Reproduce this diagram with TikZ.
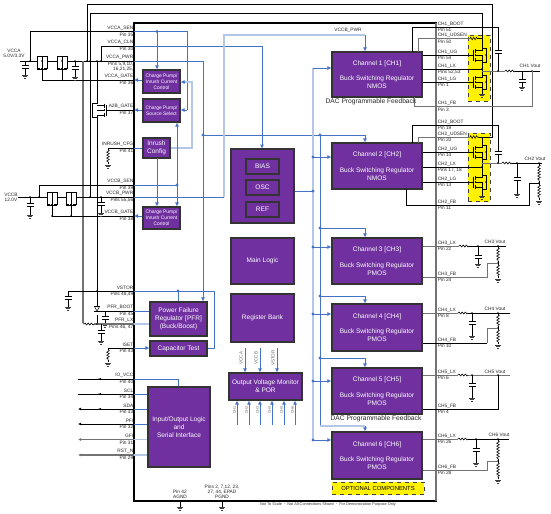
\documentclass[tikz,border=0pt]{standalone}
\usepackage{fontspec}
\setmainfont{Liberation Sans}
\usetikzlibrary{arrows.meta,decorations.pathmorphing}
\pgfdeclarelayer{toplab}
\pgfsetlayers{main,toplab}
\definecolor{pur}{HTML}{7030A0}
\definecolor{blu}{HTML}{4472C4}
\definecolor{lbl}{HTML}{B4C7E7}
\tikzset{
 wk/.style={draw=black,line width=0.5pt},
 thin fet/.style={draw=black,line width=0.4pt},
 wg/.style={draw=black!55,line width=0.9pt},
 wb/.style={draw=blu,line width=0.7pt},
 wl/.style={draw=lbl,line width=1.5pt},
 arr/.style={-{Latex[length=3pt,width=3pt,color=blu]}},
 pinlab/.style={inner sep=0pt,font=\fontsize{3.6}{4}\selectfont,text=black!85},
 blk/.style={draw=black!80,line width=0.8pt,fill=pur,text=white,align=center,inner sep=0pt},
 big/.style={font=\fontsize{4.9}{6}\selectfont},
 small/.style={font=\fontsize{3.7}{4.6}\selectfont},
 rotlab/.style={inner sep=0pt,rotate=90,text=black!60},
 res/.style={line width=0.4pt,decorate,decoration={zigzag,amplitude=1pt,segment length=2.2pt}},
 ind/.style={line width=0.45pt,decorate,decoration={snake,amplitude=0.7pt,segment length=2.4pt}},
 yel/.style={fill=yellow,draw=black!75,dashed,line width=0.7pt}
}
\newcommand\blk[7]{\node[blk,#6,minimum width={(#4-#2)*0.75},minimum height={(#5-#3)*0.75}] (#1) at ({(#2+#4)/2},{(#3+#5)/2}) {#7};}
\newcommand\pinL[4]{\coordinate (#1) at (134,#2);
 \begin{pgfonlayer}{toplab}
 \node[pinlab,anchor=east] (#1n) at (133.5,{#2-3.4}) {#3};
 \node[pinlab,anchor=east] (#1p) at (133.5,{#2+2.9}) {#4};
 \end{pgfonlayer}}
\newcommand\pinR[4]{\coordinate (#1) at (436,#2);
 \begin{pgfonlayer}{toplab}
 \node[pinlab,anchor=west] (#1n) at (437.5,{#2-3}) {#3};
 \node[pinlab,anchor=west] (#1p) at (437.5,{#2+2.9}) {#4};
 \end{pgfonlayer}}
\newcommand\gndx[2]{\draw[line width=0.45pt,black!75] ({#1-3},#2)--({#1+3},#2) ({#1-2},{#2+1.5})--({#1+2},{#2+1.5}) ({#1-0.8},{#2+3})--({#1+0.8},{#2+3});}
% capacitor with ground: x, y top, plate y, ground y
\newcommand\capg[4]{\draw[wk] (#1,#2)--(#1,#3) (#1,{#3+3})--(#1,#4);
 \draw[line width=0.7pt] ({#1-3.5},#3)--({#1+3.5},#3) ({#1-3.5},{#3+3})--({#1+3.5},{#3+3}); \gndx{#1}{#4}}
\newcommand\resv[3]{\draw[wk] (#1,#2)--(#1,{#2+2}); \draw[wk,res] (#1,{#2+2})--(#1,{#3-2}); \draw[wk] (#1,{#3-2})--(#1,#3);}
\newcommand\indh[3]{\draw[wk,ind] (#1,#3)--(#2,#3);}
\newcommand\dotk[2]{\fill[black] (#1,#2) circle (0.6pt);}
\newcommand\dotb[2]{\fill[blu] (#1,#2) circle (1.2pt);}
% FET in series with horizontal line: x, line y, gate y
\newcommand\fetS[3]{\draw[thin fet] ({#1-5},#2)--({#1-5},{#2+7})--({#1-1.8},{#2+7}) ({#1-0.9},{#2+7})--({#1+0.9},{#2+7}) ({#1+1.8},{#2+7})--({#1+5},{#2+7})--({#1+5},#2)
  ({#1-5},#2)--({#1-5},{#2-5})--({#1+5},{#2-5})--({#1+5},#2)
  ({#1-5},{#2+8.6})--({#1+5},{#2+8.6}) (#1,#3)--(#1,{#2+8.6}) (#1,{#2+7})--(#1,{#2-5});}
% FET in a vertical leg, gate from the left: x of gate plate, centre y, top y, bottom y
\newcommand\fetG[4]{\draw[thin fet] (#1,{#2-5.5})--(#1,{#2+5.5}) ({#1+1.8},{#2-6.5})--({#1+1.8},{#2-2.5}) ({#1+1.8},{#2-1})--({#1+1.8},{#2+1}) ({#1+1.8},{#2+2.5})--({#1+1.8},{#2+6.5})
  ({#1+1.8},{#2-5})--({#1+9},{#2-5})--({#1+9},#3) ({#1+1.8},{#2+5})--({#1+9},{#2+5})--({#1+9},#4)
  ({#1+1.8},#2)--({#1+9},#2)--({#1+9},{#2+5})
  ({#1+9},{#2-7})--({#1+13},{#2-7})--({#1+13},{#2+7})--({#1+9},{#2+7});
  \fill ({#1+13},#2) circle (0.6pt);}
\begin{document}
\begin{tikzpicture}[x=0.75pt,y=-0.75pt]
\path[use as bounding box,fill=white] (0,0) rectangle (551,514);
% main outline
\draw[line width=0.95pt,fill=white] (134,23) rectangle (436,501);
\draw[black!55,line width=1.2pt] (436,23)--(436,501);
% yellow fields
\node[yel,minimum width=16.5pt,minimum height=49.5pt,inner sep=0pt] (yel1) at (479,68) {};
\node[yel,minimum width=16.5pt,minimum height=51.5pt,inner sep=0pt] (yel2) at (479,167.5) {};
% blocks
\blk{cpa}{143}{70}{180}{93}{small}{Charge Pump/\\Inrush Current\\Control}
\blk{cps}{143}{99}{180}{122}{small}{Charge Pump/\\Source Select}
\blk{inr}{143}{138}{170}{158}{big}{Inrush\\Config}
\blk{cpb}{143}{207}{180}{229}{small}{Charge Pump/\\Inrush Current\\Control}
\blk{sys}{231}{149}{294}{223}{big}{}
\blk{bias}{246}{159}{279}{174}{big}{BIAS}
\blk{osc}{246}{180}{279}{195}{big}{OSC}
\blk{ref}{246}{202}{279}{217}{big}{REF}
\blk{logic}{231}{238}{294}{284}{big}{Main Logic}
\blk{regb}{231}{294}{294}{342}{big}{Register Bank}
\blk{mon}{229}{373}{302}{400}{big}{Output Voltage Monitor\\\& POR}
\blk{pfr}{150}{302}{207}{336}{big}{Power Failure\\Regulator [PFR]\\(Buck/Boost)}
\blk{cap}{150}{341}{207}{356}{big}{Capacitor Test}
\blk{iob}{148}{387}{210}{467}{big}{Input/Output Logic\\and\\Serial Interface}
\blk{cha}{332}{52}{422}{97}{big}{Channel 1 [CH1]\\[5.5pt]Buck Switching Regulator\\NMOS}
\blk{chb}{332}{143}{422}{189}{big}{Channel 2 [CH2]\\[5.5pt]Buck Switching Regulator\\NMOS}
\blk{chc}{332}{238}{422}{284}{big}{Channel 3 [CH3]\\[5.5pt]Buck Switching Regulator\\PMOS}
\blk{chd}{332}{304}{422}{351}{big}{Channel 4 [CH4]\\[5.5pt]Buck Switching Regulator\\PMOS}
\blk{che}{332}{368}{422}{414}{big}{Channel 5 [CH5]\\[5.5pt]Buck Switching Regulator\\PMOS}
\blk{chf}{332}{432}{422}{479}{big}{Channel 6 [CH6]\\[5.5pt]Buck Switching Regulator\\PMOS}
\node[yel,minimum width=69pt,minimum height=9.5pt,inner sep=0pt,font=\fontsize{4.4}{5}\selectfont,text=black] (opt) at (378,488.5) {OPTIONAL COMPONENTS};
% pin labels, left
\pinL{vccasen}{31.5}{VCCA\_SEN}{Pin 35}
\pinL{vccacln}{46}{VCCA\_CLN}{Pin 30}
\pinL{vccapwr}{61}{VCCA\_PWR}{Pins 5,9,10,}
\begin{pgfonlayer}{toplab}\node[pinlab,anchor=east] (vccapwrq) at (133.5,69.5) {16,21,25,};\end{pgfonlayer}
\pinL{vccagate}{80}{VCCA\_GATE}{Pin 36}
\pinL{atobgate}{110}{A2B\_GATE}{Pin 37}
\pinL{inrcfg}{148}{INRUSH\_CFG}{Pin 41}
\pinL{vccbsen}{185}{VCCB\_SEN}{Pin 39}
\pinL{vccbpwr}{197}{VCCB\_PWR}{Pins 55,56}
\pinL{vccbgate}{216}{VCCB\_GATE}{Pin 38}
\pinL{vstor}{291}{VSTOR}{Pins 48,49}
\pinL{pfrboot}{311}{PFR\_BOOT}{Pin 45}
\pinL{pfrlx}{324}{PFR\_LX}{Pins 46, 47}
\pinL{iset}{348}{ISET}{Pin 43}
\pinL{iovcc}{379}{IO\_VCC}{Pin 40}
\pinL{scl}{394}{SCL}{Pin 34}
\pinL{sda}{409}{SDA}{Pin 33}
\pinL{pfi}{424}{PFI}{Pin 32}
\pinL{gfi}{439.5}{GFI}{Pin 31}
\pinL{rstn}{455}{RST\_N}{Pin 29}
% pin labels, right
\pinR{aboot}{27}{CH1\_BOOT}{Pin 51}
\pinR{auds}{38.5}{CH1\_UDSEN}{Pin 50}
\pinR{aug}{55}{CH1\_UG}{Pin 54}
\pinR{alx}{69}{CH1\_LX}{Pins 52,53}
\pinR{alg}{82}{CH1\_LG}{Pin 1}
\pinR{afb}{106.5}{CH1\_FB}{Pin 3}
\pinR{bboot}{125}{CH2\_BOOT}{Pin 19}
\pinR{buds}{137}{CH2\_UDSEN}{Pin 20}
\pinR{bug}{152}{CH2\_UG}{Pin 14}
\pinR{blx}{167}{CH2\_LX}{Pins 17, 18}
\pinR{blg}{182}{CH2\_LG}{Pin 13}
\pinR{bfb}{205}{CH2\_FB}{Pin 11}
\pinR{clx}{246}{CH3\_LX}{Pin 22}
\pinR{cfb}{277}{CH3\_FB}{Pin 24}
\pinR{dlx}{313}{CH4\_LX}{Pin 8}
\pinR{dfb}{343}{CH4\_FB}{Pin 10}
\pinR{elx}{375}{CH5\_LX}{Pin 6}
\pinR{efb}{409}{CH5\_FB}{Pin 4}
\pinR{flx}{439}{CH6\_LX}{Pin 26}
\pinR{ffb}{470}{CH6\_FB}{Pin 28}
% left rails
\coordinate (srca) at (20,61);
\coordinate (srcb) at (18,197);
\draw[wk] (srca)--(37,61) (47,61)--(57,61) (67,61)--(vccapwr);
\draw[wk] (30,61)--(30,31.5)--(vccasen);
\draw[wk] (101,61)--(101,46)--(vccacln);
\draw[wk] (87,61)--(87,4)--(492,4)--(492,137)--(482,137);
\draw[wk] (90,197)--(90,13)--(482,13)--(482,45);
\draw[wg] (83,61)--(83,323);
\draw[wk] (97,61)--(97,104) (97,116)--(97,307) (97,315)--(97,324);
\fetS{42}{61}{80}
\fetS{62}{61}{80}
\draw[wk] (42,80)--(vccagate);
\capg{25}{61}{65}{75}
\capg{75}{61}{66}{77}
\foreach \x in {30,42,62,75,87,90,97,101}{\dotk{\x}{61}}
% A2B fet, gate from the right
\draw[thin fet] (106,104.5)--(106,115.5) (104,103.5)--(104,107.5) (104,109)--(104,111) (104,112.5)--(104,116.5) (104,105)--(97,105) (104,115)--(97,115) (97,103)--(92.5,103)--(92.5,117)--(97,117) (104,110)--(97,110);
\draw[wk] (106,110)--(atobgate);
% inrush resistor
\draw[wk] (108,148)--(inrcfg);
\resv{108}{148}{164}
\gndx{108}{165}
% VCCB
\draw[wk] (srcb)--(47,197) (57,197)--(66,197) (76,197)--(vccbpwr);
\draw[wk] (39,197)--(39,185)--(vccbsen);
\fetS{52}{197}{216}
\fetS{71}{197}{216}
\draw[wk] (52,216)--(vccbgate);
\capg{30}{197}{203}{215}
\capg{101}{197}{202}{213}
\foreach \x in {30,39,90,101}{\dotk{\x}{197}}
\dotk{52}{216}\dotk{71}{216}
% VSTOR / PFR
\draw[wk] (68,291)--(vstor);
\capg{68}{291}{296}{307}
\dotk{97}{291}
\draw[wk] (105,311)--(pfrboot) (97,311)--(105,311);
\draw[thin fet,fill=white] (94.5,306.5)--(99.5,306.5)--(97,311)--cycle;
\draw[thin fet] (94,311.5)--(100,311.5);
\capg{105}{311}{316}{324}
\draw[wg] (83,323)--(84,324);
\indh{84}{94}{324}
\draw[wg] (94,324)--(pfrlx);
\capg{101}{324}{330}{341}
\dotk{97}{324}
% ISET
\draw[wk] (108,348)--(iset);
\resv{108}{348}{362}
\gndx{108}{363}
% IO lines
\draw[wk] (78,379)--(iovcc);
\draw[wk] (78,394)--(scl);
\draw[wk,{Latex[length=2.4pt,width=2.4pt]}-] (78,409)--(sda);
\draw[wk,{Latex[length=2.4pt,width=2.4pt]}-] (78,424)--(pfi);
\draw[wg,{Latex[length=2.4pt,width=2.4pt]}-] (78,439.5)--(gfi);
\draw[wg,line width=1.1pt,{Latex[length=2.4pt,width=2.4pt]}-] (78,455)--(rstn);
\foreach \y in {379,394,409}{\fill (101,{\y-1})--(101,{\y+1})--(98,\y)--cycle;}
% blue: top left
\draw[wb] (vccasen)--(187,31.5)--(187,110);
\draw[wb,arr] (187,110)--(cps.east |- 187,110);
\dotb{157}{31.5}
\draw[wb,arr] (157,31.5)--(157,0 |- cpa.north);
\draw[wb,arr] (vccacln)--(262,46)--(262,148.6);
\draw[wb] (vccapwr)--(203,61)--(203,290);
\draw[wb,arr] (203,290)--(203,0 |- pfr.north);
\dotb{203}{135}
\draw[wb] (203,135)--(365,135);
\draw[wb,arr] (365,135)--(365,0 |- chb.north);
\draw[wb,arr] (cpa.west |- vccagate)--(vccagate);
\draw[wb,arr] (cps.west |- atobgate)--(atobgate);
\draw[wb,arr] (cpb.west |- vccbgate)--(vccbgate);
\draw[wb] (inrcfg)--(inr.west |- inrcfg);
\draw[wl] (inr.east |- inrcfg)--(192,148)--(192,82)--(184,82);
\draw[wb,arr] (184,82)--(cpa.east |- 184,82);
\draw[wb,arr] (157,158)--(157,0 |- cpb.north);
\draw[wb] (vccbsen)--(177,185);
\dotb{177}{185}
\draw[wb,arr] (177,185)--(177,0 |- cps.south);
\draw[wb,arr] (177,185)--(177,0 |- cpb.north);
\draw[wb] (vccbpwr)--(224,197);
\draw[wl] (224,197)--(224,35)--(365,35);
\draw[wb,arr] (365,35)--(365,0 |- cha.north);
\node[pinlab] (vcblab) at (348,30) {VCCB\_PWR};
% blue: VSTOR / PFR / IO
\draw[wb] (vstor)--(214.6,291)--(214.6,348);
\draw[wb] (214.6,348)--(cap.east |- iset);
\dotb{178}{291}
\draw[wb] (178,291)--(178,0 |- pfr.north);
\draw[wb] (pfrboot)--(pfr.west |- pfrboot);
\draw[wl,line width=1pt] (pfrlx)--(pfr.west |- pfrlx);
\draw[wb,arr] (iset)--(cap.west |- iset);
\draw[wb] (iovcc)--(178,379)--(178,0 |- iob.north);
\draw[wb] (scl)--(iob.west |- scl);
\draw[wb] (sda)--(iob.west |- sda);
\draw[wb] (pfi)--(iob.west |- pfi);
\draw[wl,line width=1pt] (gfi)--(iob.west |- gfi);
\draw[wl,line width=1pt] (rstn)--(iob.west |- rstn);
% blue: channel rails
\draw[wl] (313,68)--(313,440);
\draw[wb,arr] (313,68)--(cha.west |- 313,68);
\draw[wb] (sys.east |- 313,191)--(313,191);
\foreach \y/\n in {157/chb,247/chc,314/chd,381/che,440/chf}{\dotb{313}{\y}\draw[wb,arr] (313,\y)--(\n.west |- 313,\y);}
\dotb{313}{191}
\dotb{320}{135}
\draw[wb] (320,135)--(320,426);
\foreach \y/\n in {228/chc,296/chd,358/che}{\dotb{320}{\y}\draw[wb] (320,\y)--(365,\y); \draw[wb,arr] (365,\y)--(365,0 |- \n.north);}
\draw[wl] (320,426)--(365,426);
\draw[wb,arr] (365,426)--(365,0 |- chf.north);
% monitor arrows and tiny labels
\foreach \x/\t in {245/VCCA,260/VCCB,277/VSTOR}{\draw[wb,arr] (\x,348)--(\x,0 |- mon.north);
 \node[rotlab,font=\fontsize{3.4}{4}\selectfont] at ({\x-4},358) {\t};}
\foreach \x/\t in {237/CH1,249/CH2,260/CH3,272/CH4,284/CH5,295/CH6}{\draw[wb,arr] (\x,425)--(\x,0 |- mon.south);
 \node[rotlab,font=\fontsize{2.8}{3}\selectfont] at ({\x-2.5},410) {\t};}
% channel 1 power stage
\draw[wk] (cha.east |- aug)--(473,55);
\draw[wk] (cha.east |- alg)--(473,82);
\draw[wk] (cha.east |- alx)--(482,69);
\draw[wk] (412,52)--(412,27)--(498,27)--(498,50);
\draw[wg,line width=0.7pt] (418,52)--(418,38.5)--(470,38.5);
\draw[wk,res] (470,38.5)--(478,38.5);
\draw[wk] (478,38.5)--(482,38.5);
\fetG{473}{55}{45}{69}
\fetG{473}{82}{69}{94}
\gndx{482}{94}
\draw[line width=0.7pt] (494.5,50)--(501.5,50) (494.5,53)--(501.5,53);
\draw[wk] (498,53)--(498,71);
\draw[wg,line width=0.7pt] (482,71)--(505,71);
\indh{505}{515}{71}
\draw[wk] (515,71)--(540,71);
\capg{522}{71}{79}{87}
\dotk{498}{71}\dotk{482}{69}\dotk{532}{71}
\draw[wg,line width=0.7pt] (414,97)--(414,106.5)--(532,106.5)--(532,71);
\node[pinlab] (avout) at (530,66) {CH1 Vout};
% channel 2 power stage
\draw[wk] (chb.east |- bug)--(473,152);
\draw[wk] (chb.east |- blg)--(473,182);
\draw[wk] (chb.east |- blx)--(482,167);
\draw[wk] (412,143)--(412,125)--(498,125)--(498,151);
\draw[wg,line width=0.7pt] (418,143)--(418,137)--(470,137);
\draw[wk,res] (470,137)--(478,137);
\draw[wk] (478,137)--(482,137);
\fetG{473}{152}{137}{163}
\fetG{473}{182}{163}{196}
\gndx{482}{196}
\draw[line width=0.7pt] (494.5,151)--(501.5,151) (494.5,154)--(501.5,154);
\draw[wk] (498,154)--(498,163);
\draw[wg,line width=0.7pt] (482,163)--(502,163);
\indh{502}{512}{163}
\draw[wk] (512,163)--(542,163);
\capg{517}{163}{177}{194}
\resv{539}{163}{183}
\resv{539}{183}{200}
\gndx{539}{201}
\dotk{498}{163}\dotk{482}{167}\dotk{517}{163}\dotk{539}{163}\dotk{539}{183}
\draw[wk] (539,183)--(529,183)--(529,205)--(406,205)--(406,189);
\node[pinlab] (bvout) at (535,158.5) {CH2 Vout};
% channel 3
\draw[wg,line width=0.7pt] (chc.east |- clx)--(459,246);
\indh{459}{469}{246}
\draw[wk] (469,246)--(506,246);
\capg{478}{246}{255}{264}
\resv{498}{246}{263}
\resv{498}{263}{278}
\gndx{498}{279}
\dotk{478}{246}\dotk{498}{246}\dotk{498}{263}
\draw[wg,line width=0.7pt] (498,263)--(487,263)--(487,277)--(chc.east |- cfb);
\node[pinlab] (cvout) at (495,242) {CH3 Vout};
% channel 4
\draw[wg,line width=0.7pt] (chd.east |- dlx)--(458,313);
\indh{458}{468}{313}
\draw[wk] (468,313)--(510,313);
\capg{472}{313}{321}{336}
\resv{498}{313}{328}
\resv{498}{328}{344}
\gndx{498}{345}
\dotk{472}{313}\dotk{498}{313}\dotk{498}{328}
\draw[wg,line width=0.7pt] (498,328)--(487,328)--(487,343);
\draw[wk] (487,343)--(chd.east |- dfb);
\node[pinlab] (dvout) at (495,309) {CH4 Vout};
% channel 5
\draw[wg,line width=0.7pt] (che.east |- elx)--(458,375);
\draw[wk,ind] (458,375)--(468,375);
\draw[wg,line width=0.7pt] (468,375)--(510,375);
\capg{472}{375}{383}{398}
\dotk{472}{375}\dotk{498}{375}
\draw[wk] (498,375)--(498,409)--(che.east |- efb);
\node[pinlab] (evout) at (495,371.5) {CH5 Vout};
% channel 6
\draw[wg,line width=0.7pt] (chf.east |- flx)--(458,439);
\indh{458}{468}{439}
\draw[wk] (468,439)--(509,439);
\capg{476}{439}{448}{463}
\resv{498}{439}{461}
\resv{498}{461}{479}
\gndx{498}{480}
\dotk{476}{439}\dotk{498}{439}\dotk{498}{461}
\draw[wg,line width=0.7pt] (498,461)--(487,461)--(487,470)--(chf.east |- ffb);
\node[pinlab] (fvout) at (499,435) {CH6 Vout};
% labels
\node[pinlab,align=center] (vccal) at (14,53) {VCCA\\[-0.3pt]5.0V/3.3V};
\node[pinlab,align=center] (vccbl) at (11,197) {VCCB\\[-0.3pt]12.0V};
\node[font=\fontsize{5}{6}\selectfont,inner sep=0pt,text=black!85] (daca) at (371,102) {DAC Programmable Feedback};
\node[font=\fontsize{5}{6}\selectfont,inner sep=0pt,text=black!85] (dacb) at (376,419) {DAC Programmable Feedback};
\node[pinlab,align=center] (agnd) at (180,494.5) {Pin 42\\[-0.3pt]AGND};
\node[pinlab,align=center] (pgnd) at (222,491.5) {Pins 2, 7,12, 23,\\[-0.3pt]27, 44, EPAD\\[-0.3pt]PGND};
\draw[wk] (180,501)--(180,507) (222,501)--(222,507);
\gndx{180}{507}
\gndx{222}{507}
\node[inner sep=0pt,font=\fontsize{2.9}{3}\selectfont,text=black!80] (foot) at (328,504.5) {Not To Scale $\cdot$ Not All Connections Shown $\cdot$ For Demonstration Purpose Only};
\end{tikzpicture}
\end{document}
